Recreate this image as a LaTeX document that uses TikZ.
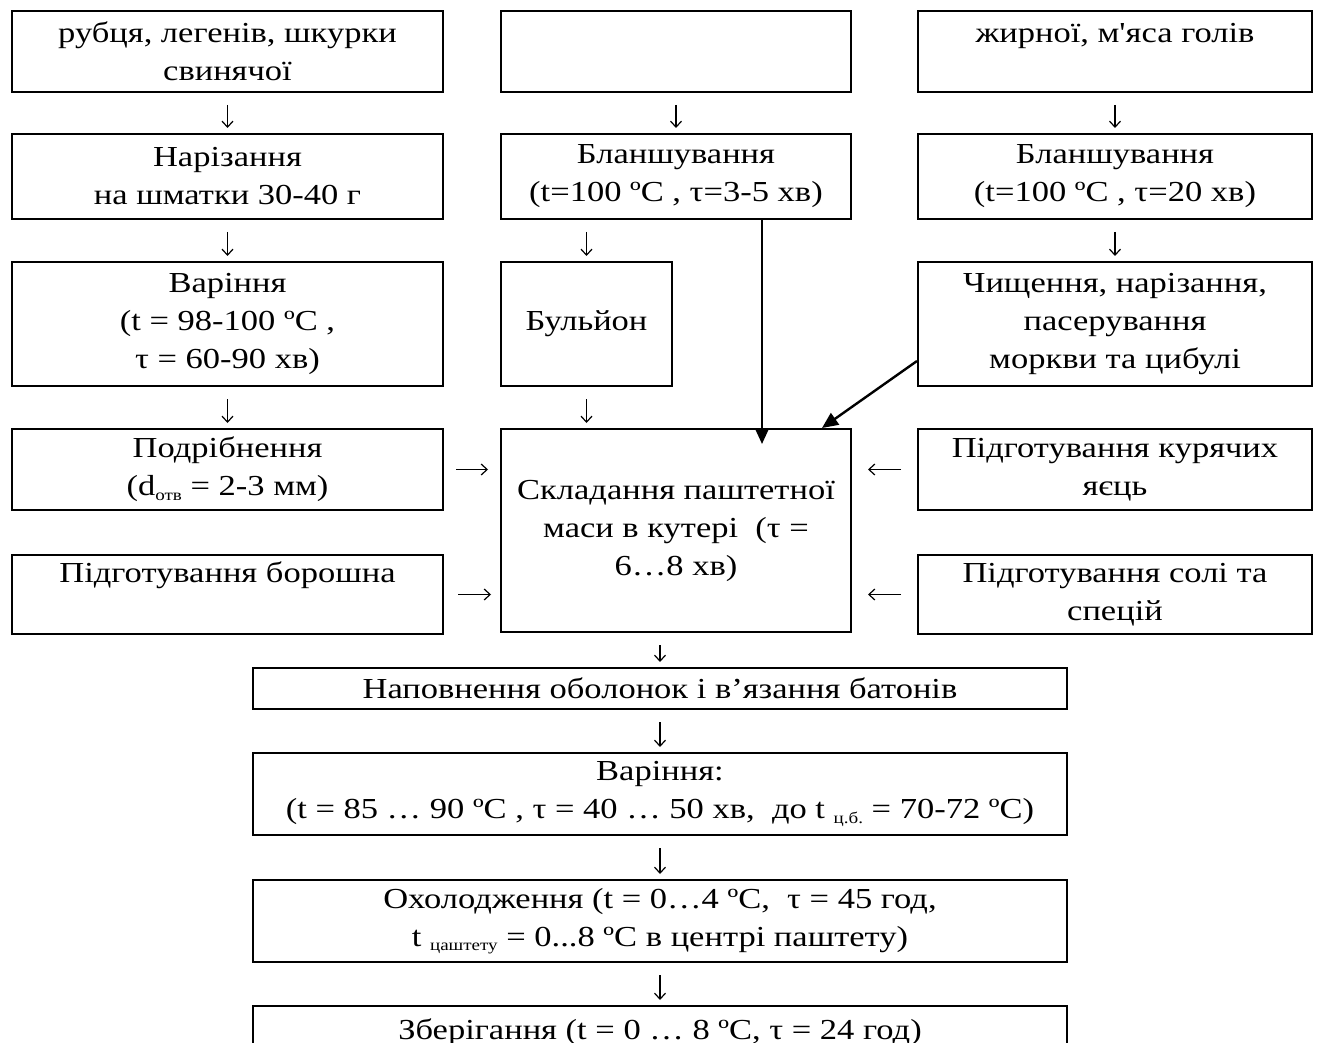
\documentclass[tikz,border=0pt]{standalone}
\usepackage{fontspec}
\setmainfont{Liberation Serif}[FakeStretch=1.19,Ligatures=TeXOff]
\usetikzlibrary{arrows.meta,positioning}

\newcommand{\lowtxt}[1]{\raisebox{-0.35ex}{\fontsize{16}{16}\selectfont #1}}

\begin{document}
\begin{tikzpicture}[x=1pt,y=-1pt,line width=2pt,
  proc node/.style={rectangle,draw,align=center,inner sep=2pt,
    font=\fontsize{29}{38}\selectfont},
  left node/.style={proc node,minimum width=431pt},
  mid node/.style={proc node,minimum width=350pt},
  right node/.style={proc node,minimum width=394pt},
  wide node/.style={proc node,minimum width=814pt},
  txt arrow/.style={-{Straight Barb[length=6pt,width=11pt]},line width=1.2pt,
    shorten <=12pt,shorten >=5pt},
  thick arrow/.style={-{Triangle[length=16pt,width=14pt]},line width=2.4pt}]
  \useasboundingbox (0,0) rectangle (1318,1043);
  \clip (0,0) rectangle (1318,1043);

  % top row
  \node[left node,minimum height=81pt] (1) at (227.5,51.5) {рубця, легенів, шкурки\\свинячої};
  \node[mid node,minimum height=81pt] (2) [right=56pt of 1] {};
  \node[right node,minimum height=81pt] (3) [right=65pt of 2] {жирної, м'яса голів\\\vphantom{ї}};

  \node[left node,minimum height=85pt] (4) [below=40pt of 1] {Нарізання\\на шматки 30-40 г};
  \node[mid node,minimum height=85pt] (5) [below=40pt of 2] {Бланшування\\(t=100 ºC , τ=3-5 хв)};
  \node[right node,minimum height=85pt] (6) [below=40pt of 3] {Бланшування\\(t=100 ºC , τ=20 хв)};

  \node[left node,minimum height=124pt] (7) [below=41pt of 4] {Варіння\\(t = 98-100 ºC ,\\τ = 60-90 хв)};
  \node[proc node,minimum width=171pt,minimum height=124pt] (8) [below right=41pt and 0pt of 5.south west] {Бульйон};
  \node[right node,minimum height=124pt] (9) [below=41pt of 6] {Чищення, нарізання,\\пасерування\\моркви та цибулі};

  % mixing
  \node[left node,minimum height=81pt] (10) [below=41pt of 7] {Подрібнення\\(d\lowtxt{отв} = 2-3 мм)};
  \node[mid node,minimum height=203pt] (11) [below right=41pt and 0pt of 8.south west] {Складання паштетної\\маси в кутері \ (τ =\\6…8 хв)};
  \node[right node,minimum height=81pt] (12) [below=41pt of 9] {Підготування курячих\\яєць};
  \node[left node,minimum height=79pt] (13) [below=43pt of 10] {Підготування борошна\\\vphantom{р}};
  \node[right node,minimum height=79pt] (14) [below=43pt of 12] {Підготування солі та\\спецій};

  % bottom chain
  \node[wide node,minimum height=41pt] (15) at (660,688.5) {Наповнення оболонок і в’язання батонів};
  \node[wide node,minimum height=82pt] (16) [below=42pt of 15] {Варіння:\\(t = 85 … 90 ºC , τ = 40 … 50 хв, \ до t \lowtxt{ц.б.} = 70-72 ºC)};
  \node[wide node,minimum height=82pt] (17) [below=43pt of 16] {Охолодження (t = 0…4 ºC, \ τ = 45 год,\\t \lowtxt{цаштету} = 0...8 ºC в центрі паштету)};
  \node[wide node,minimum height=84pt] (18) [below=42pt of 17] {Зберігання (t = 0 … 8 ºC, τ = 24 год)\\\vphantom{ї}};

  \path[txt arrow]
    (1) edge (4)
    (2) edge (5)
    (3) edge (6)
    (4) edge (7)
    (5.south -| 8) edge (8)
    (6) edge (9)
    (7) edge (10)
    (8) edge (11.north -| 8)
    (11.south -| 15) edge (15)
    (15) edge (16)
    (16) edge (17)
    (17) edge (18)
    (10) edge[shorten <=12pt,shorten >=12pt] (11.west |- 10)
    (13) edge[shorten <=14pt,shorten >=9pt] (11.west |- 13)
    (12) edge[shorten <=16pt,shorten >=16pt] (11.east |- 12)
    (14) edge[shorten <=16pt,shorten >=16pt] (11.east |- 14);

  \coordinate (5b) at ([xshift=86pt]5.south);
  \draw[thick arrow,shorten >=-16pt] (5b) -- (5b |- 11.north);
  \draw[thick arrow] ([yshift=-37pt]9.west) -- ([xshift=146pt]11.north);
\end{tikzpicture}
\end{document}
